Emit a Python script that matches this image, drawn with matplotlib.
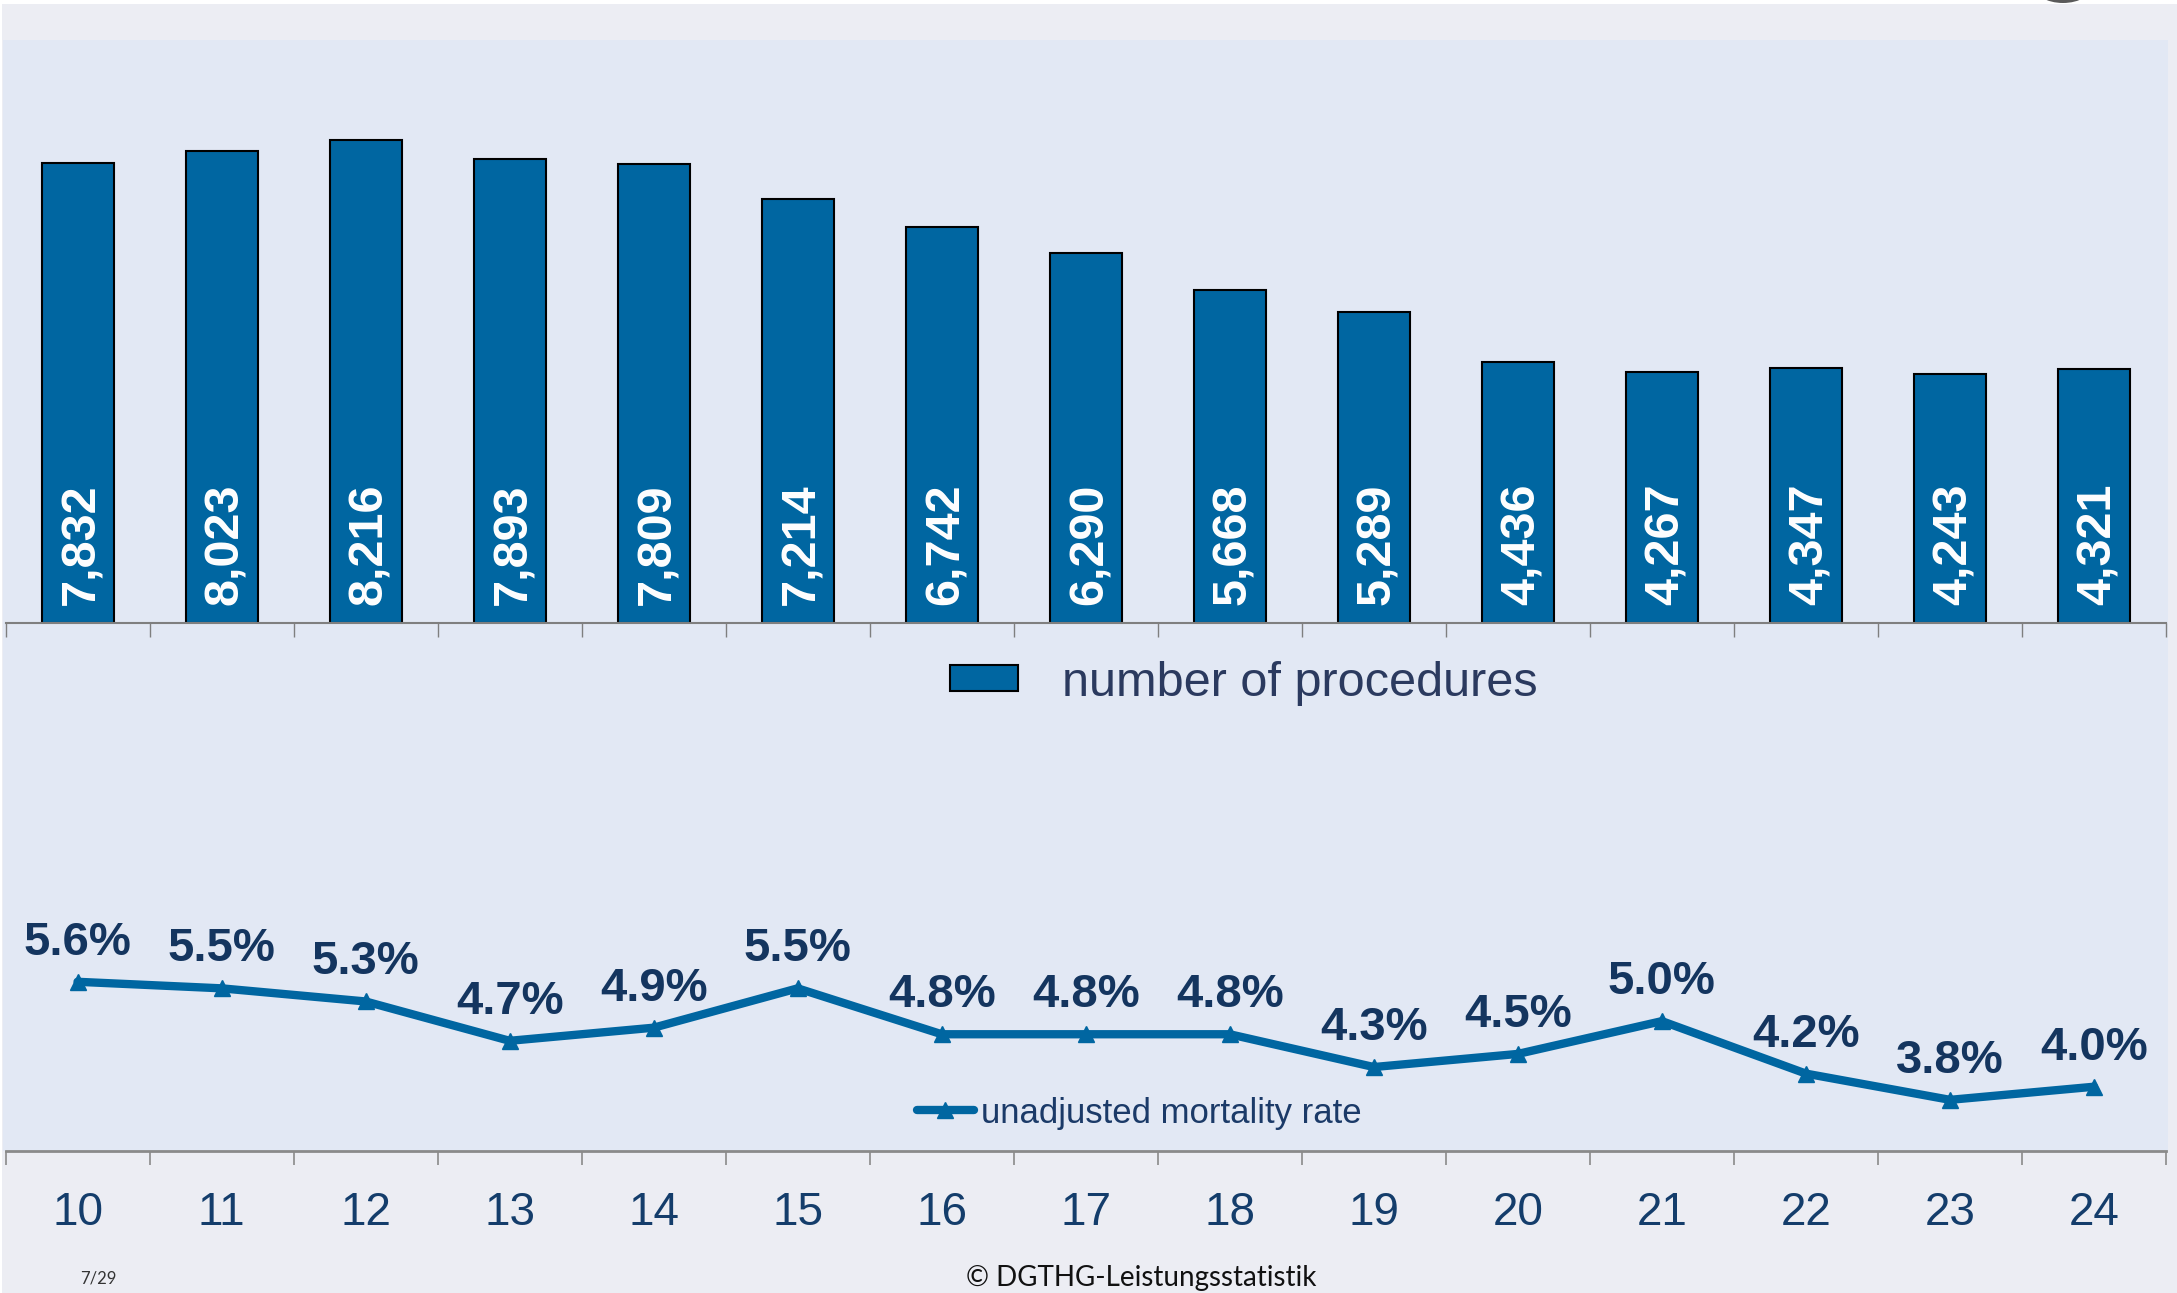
import matplotlib
matplotlib.use("Agg")
import matplotlib.pyplot as plt
import numpy as np
from matplotlib.patches import Rectangle, Patch, Ellipse
from matplotlib.lines import Line2D

# data
years = ['10', '11', '12', '13', '14', '15', '16', '17', '18', '19', '20', '21', '22', '23', '24']
procedures = [7832, 8023, 8216, 7893, 7809, 7214, 6742, 6290, 5668, 5289, 4436, 4267, 4347, 4243, 4321]
mortality = [5.6, 5.5, 5.3, 4.7, 4.9, 5.5, 4.8, 4.8, 4.8, 4.3, 4.5, 5.0, 4.2, 3.8, 4.0]

W, H = 2177, 1293
BLUE = '#0066a1'
plt.rcParams['font.family'] = ['Liberation Sans', 'DejaVu Sans']

fig = plt.figure(figsize=(W / 100, H / 100), dpi=100, facecolor='#ecedf3')


def fx(px):
    return px / W


def fy(py):
    return 1 - py / H


# slide background bits
fig.add_artist(Rectangle((0, fy(4)), 1, 4 / H, transform=fig.transFigure,
                         facecolor='white', edgecolor='none', zorder=-5))
fig.add_artist(Rectangle((0, 0), fx(2), 1, transform=fig.transFigure,
                         facecolor='white', edgecolor='none', zorder=-5))
fig.add_artist(Rectangle((fx(3), fy(1151)), fx(2168) - fx(3), (1151 - 40) / H,
                         transform=fig.transFigure, facecolor='#e2e8f4',
                         edgecolor='none', zorder=-4))
fig.add_artist(Ellipse((fx(2063), fy(-15)), 60 / W, 36 / H, transform=fig.transFigure,
                       facecolor='#5a5a5a', edgecolor='none', zorder=-3))

x = np.arange(len(years))

# ---- top: number of procedures
ax_top = fig.add_axes([fx(5.5), fy(623), (2166 - 5.5) / W, (623 - 40) / H])
ax_top.patch.set_alpha(0)
ax_top.bar(x, procedures, width=0.5, color=BLUE, edgecolor='black', linewidth=1.5)
ax_top.set_xlim(-0.5, len(years) - 0.5)
ax_top.set_ylim(0, 9920)
for s in ['top', 'left', 'right']:
    ax_top.spines[s].set_visible(False)
ax_top.spines['bottom'].set_color('#7f7f7f')
ax_top.spines['bottom'].set_linewidth(1.5)
ax_top.set_yticks([])
ax_top.set_xticks(np.arange(-0.5, len(years), 1))
ax_top.set_xticklabels([])
ax_top.tick_params(axis='x', direction='out', length=10, width=1, color='#7f7f7f')

for i, v in enumerate(procedures):
    ax_top.annotate(f"{v:,}", (x[i], 0), xytext=(3, 13), textcoords='offset points',
                    rotation=90, ha='center', va='bottom', color='white',
                    fontsize=35, fontweight='bold')

ax_top.legend([Patch(facecolor=BLUE, edgecolor='black', linewidth=1.5)],
              ['number of procedures'], loc='center left',
              bbox_to_anchor=(fx(950), fy(683)), bbox_transform=fig.transFigure,
              frameon=False, fontsize=35, handlelength=1.4, handleheight=0.43,
              handletextpad=0.9, borderpad=0, borderaxespad=0, labelcolor='#2b3a5f')

# ---- bottom: mortality rate
ax_bot = fig.add_axes([fx(5.5), fy(1151), (2166 - 5.5) / W, (1151 - 623) / H])
ax_bot.patch.set_alpha(0)
ax_bot.plot(x, mortality, color=BLUE, lw=6, marker='^', ms=11,
            solid_joinstyle='miter', solid_capstyle='round')
ax_bot.set_xlim(-0.5, len(years) - 0.5)
ax_bot.set_ylim(3.02, 11.07)
for s in ['top', 'left', 'right']:
    ax_bot.spines[s].set_visible(False)
ax_bot.spines['bottom'].set_color('#8a8a8a')
ax_bot.spines['bottom'].set_linewidth(2)
ax_bot.set_yticks([])
ax_bot.set_xticks(np.arange(-0.5, len(years), 1))
ax_bot.set_xticklabels([])
ax_bot.set_xticks(x, labels=years, minor=True)
ax_bot.tick_params(axis='x', which='major', direction='out', length=10, width=1.2,
                   color='#8a8a8a')
ax_bot.tick_params(axis='x', which='minor', length=0, pad=29, labelsize=33,
                   labelcolor='#143d6b')

for i, m in enumerate(mortality):
    ax_bot.annotate(f"{m:.1f}%", (x[i], m), xytext=(0, 19.5), textcoords='offset points',
                    ha='center', va='baseline', fontsize=34, fontweight='bold',
                    color='#14355f')

ax_bot.legend([Line2D([], [], color=BLUE, lw=6, marker='^', ms=11,
                      solid_capstyle='round')],
              ['unadjusted mortality rate'], loc='center left',
              bbox_to_anchor=(fx(917), fy(1113)), bbox_transform=fig.transFigure,
              frameon=False, fontsize=25, handlelength=1.64, handletextpad=0.2,
              borderpad=0, borderaxespad=0, labelcolor='#1b3a68')

# footer
fig.text(fx(1141), fy(1286), "© DGTHG-Leistungsstatistik", ha='center', va='baseline',
         fontsize=20, family=['Lato', 'DejaVu Sans'], color='#111111')
fig.text(fx(80), fy(1283), "7/29", ha='left', va='baseline',
         fontsize=12, family=['Lato', 'DejaVu Sans'], color='#333333')

fig.savefig('out.png', dpi=100, facecolor=fig.get_facecolor())
